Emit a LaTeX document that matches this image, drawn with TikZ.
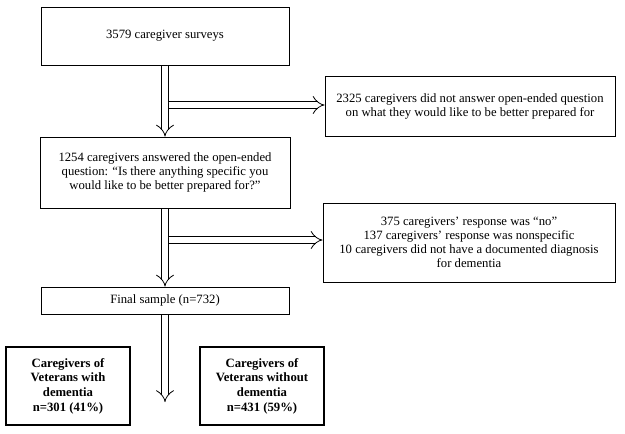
\documentclass[tikz,border=0pt]{standalone}
\usepackage{fontspec}
\setmainfont{Liberation Serif}
\usetikzlibrary{positioning,arrows.meta,calc}

\begin{document}
\begin{tikzpicture}[
  x=1pt,y=-1pt,
  box/.style={rectangle,draw,line width=1pt,inner sep=0pt,align=center,
              font=\fontsize{12.7}{14}\selectfont},
  groupbox/.style={box,line width=2.6pt,font=\fontsize{12.7}{14.7}\selectfont\bfseries},
  flow/.style={double,double distance=5.6pt,line width=0.8pt,-{Implies[scale=1.5]}}
]
  \useasboundingbox (0,0) rectangle (625,434);

  % ---------- main column ----------
  \node[box,minimum width=248pt,minimum height=58pt] (surveys) at (165,36)
    {3579 caregiver surveys};
  \node[box,minimum width=250pt,minimum height=71pt] (answered) at (165,172.5)
    {1254 caregivers answered the open-ended\\question: ``Is there anything specific you\\would like to be better prepared for?''};
  \node[box,minimum width=248pt,minimum height=27pt] (final) at (165,300.5)
    {Final sample (n=732)};

  % ---------- exclusions ----------
  \node[box,minimum width=290pt,minimum height=60pt] (notanswered) at (470,106)
    {2325 caregivers did not answer open-ended question\\on what they would like to be better prepared for};
  \node[box,minimum width=292pt,minimum height=79pt] (excluded) at (469,242.5)
    {375 caregivers' response was ``no''\\137 caregivers' response was nonspecific\\10 caregivers did not have a documented diagnosis\\for dementia};

  % ---------- groups ----------
  \node[groupbox,minimum width=124pt,minimum height=78pt] (withdem) at (68,386)
    {Caregivers of\\Veterans with\\dementia\\n=301 (41\%)};
  \node[groupbox,minimum width=124pt,minimum height=78pt] (withoutdem) at (262,386)
    {Caregivers of\\Veterans without\\dementia\\n=431 (59\%)};

  % ---------- flow arrows ----------
  \coordinate (b1) at (168.5,105);
  \coordinate (b2) at (168.5,240);
  \coordinate (split) at (165,402);

  \draw[flow] (surveys.south) -- (answered.north);
  \draw[flow] (b1) -- (b1 -| notanswered.west);
  \draw[flow] (answered.south) -- (final.north);
  \draw[flow] (b2) -- (b2 -| excluded.west);
  \draw[flow] (final.south) -- (split);
\end{tikzpicture}
\end{document}
